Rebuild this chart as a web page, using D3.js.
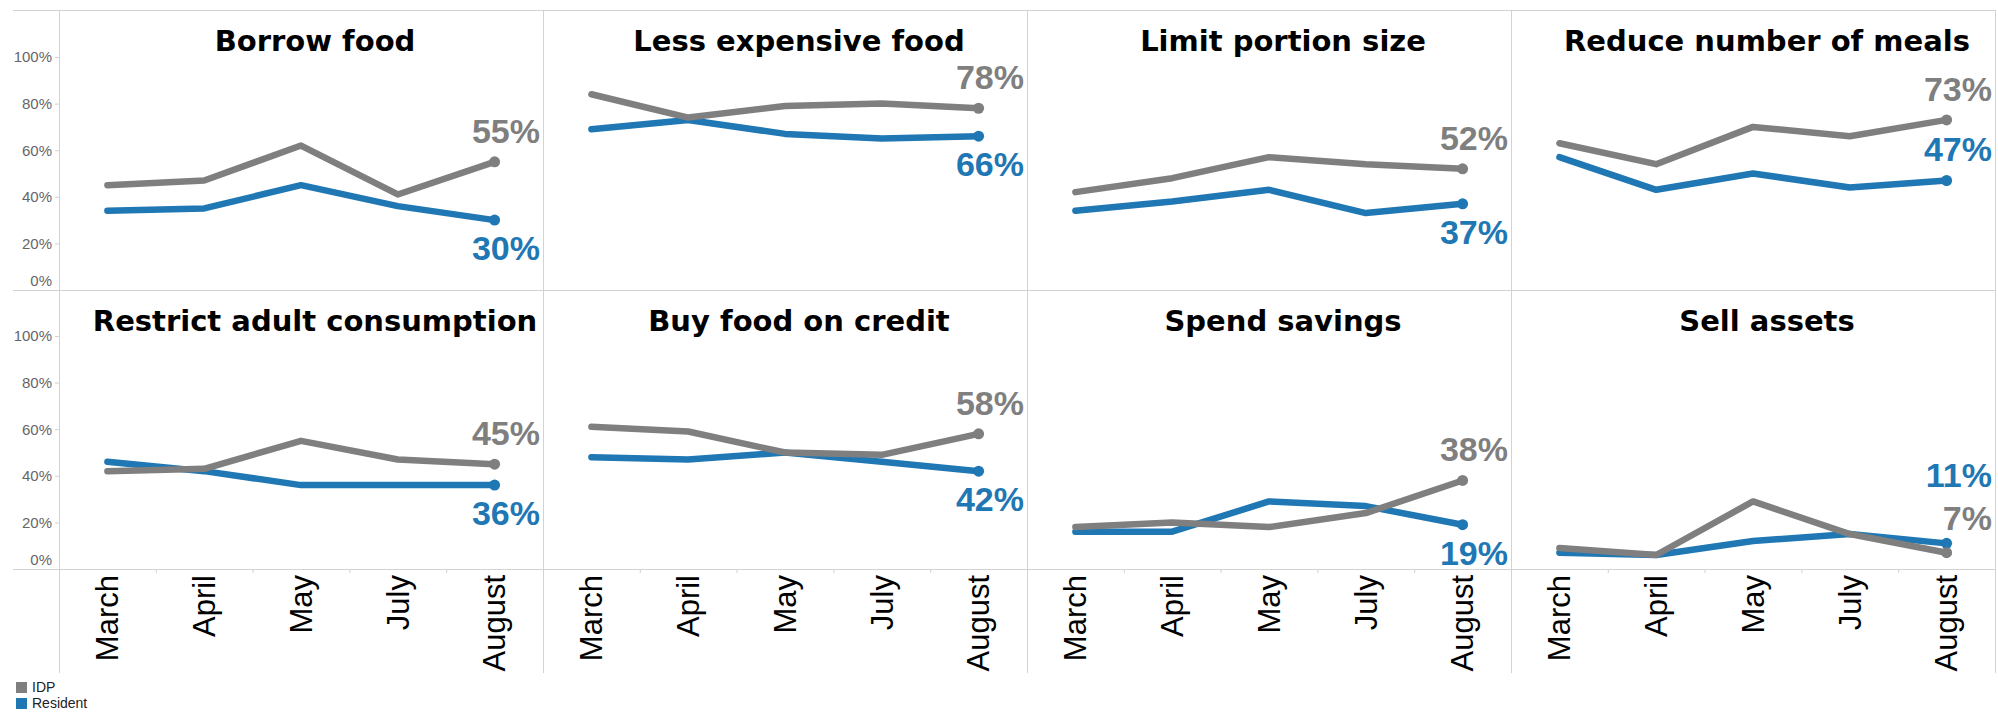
<!DOCTYPE html>
<html>
<head>
<meta charset="utf-8">
<script src="https://cdn.jsdelivr.net/npm/d3@7"></script>
<style>
  body { margin: 0; background: #fff; }
  svg { display: block; }
</style>
</head>
<body>
<script>
// data
const months = ["March", "April", "May", "July", "August"];
const titles = ["Borrow food", "Less expensive food", "Limit portion size", "Reduce number of meals",
  "Restrict adult consumption", "Buy food on credit", "Spend savings", "Sell assets"];
const seriesNames = ["IDP", "Resident"];
const idp = [
  [45, 47, 62, 41, 55],
  [84, 74, 79, 80, 78],
  [42, 48, 57, 54, 52],
  [63, 54, 70, 66, 73],
  [42, 43, 55, 47, 45],
  [61, 59, 50, 49, 58],
  [18, 20, 18, 24, 38],
  [9, 6, 29, 15, 7]
];
const resident = [
  [34, 35, 45, 36, 30],
  [69, 73, 67, 65, 66],
  [34, 38, 43, 33, 37],
  [57, 43, 50, 44, 47],
  [46, 42, 36, 36, 36],
  [48, 47, 50, 46, 42],
  [16, 16, 29, 27, 19],
  [7, 6, 12, 15, 11]
];
const yTicks = [0, 20, 40, 60, 80, 100];

const width = 1998, height = 712;
const left = 59, panelW = 484, topY = 10, rowH = 279.5, plotH = 233, bottomEdge = 673;
const gridColor = "#d3d3d3";
const colors = { IDP: "#7f7f7f", Resident: "#1f77b4" };
const font = "Arial, 'Liberation Sans', sans-serif";

const svg = d3.select("body").append("svg")
    .attr("width", width)
    .attr("height", height)
    .style("font-family", font);

// grid / panel borders
const grid = svg.append("g").attr("stroke", gridColor).attr("stroke-width", 1);
[0, 1, 2].forEach(r => {
  const y = Math.round(topY + r * rowH) + 0.5;
  grid.append("line").attr("x1", 13).attr("x2", left + 4 * panelW).attr("y1", y).attr("y2", y);
});
[0, 1, 2, 3, 4].forEach(c => {
  const x = left + c * panelW + 0.5;
  grid.append("line").attr("x1", x).attr("x2", x).attr("y1", topY).attr("y2", bottomEdge);
});

const yScales = [0, 1].map(r => {
  const b = Math.round(topY + (r + 1) * rowH);
  return d3.scaleLinear().domain([0, 100]).range([b, b - plotH]);
});

// y axes
yScales.forEach(y => {
  const g = svg.append("g")
      .attr("transform", `translate(${left},0)`)
      .call(d3.axisLeft(y).tickValues(yTicks).tickFormat(d => d + "%").tickSize(4).tickPadding(3));
  g.select(".domain").remove();
  g.selectAll(".tick line").attr("stroke", gridColor);
  g.selectAll(".tick text")
      .attr("fill", "#666")
      .style("font-size", "15px")
      .style("font-family", font);
  g.selectAll(".tick text").filter(d => d === 0).attr("dy", "-0.27em");
});

const line = d3.line().x(d => d.x).y(d => d.y);

titles.forEach((title, p) => {
  const row = Math.floor(p / 4), col = p % 4;
  const px = left + col * panelW;
  const rowTop = topY + row * rowH;
  const y = yScales[row];
  const x = d3.scaleBand().domain(months).range([px, px + panelW]);
  const cx = m => x(m) + x.bandwidth() / 2;

  const g = svg.append("g");

  g.append("text")
      .attr("x", px + panelW / 2 + 14)
      .attr("y", rowTop + 41)
      .attr("text-anchor", "middle")
      .style("font-family", "'DejaVu Sans', Verdana, sans-serif")
      .style("font-weight", "bold")
      .style("font-size", "29px")
      .attr("fill", "#000")
      .text(title);

  // month axis only under the bottom row
  if (row === 1) {
    const ax = g.append("g")
        .attr("transform", `translate(0,${y(0)})`)
        .call(d3.axisBottom(x).tickSize(0));
    ax.select(".domain").remove();
    ax.selectAll(".tick text")
        .attr("transform", "rotate(-90)")
        .attr("text-anchor", "end")
        .attr("x", -6)
        .attr("y", 0)
        .attr("dy", "0.35em")
        .attr("fill", "#000")
        .style("font-size", "31px")
        .style("font-family", font);
    g.selectAll(".bandtick")
        .data(months.slice(1))
        .join("line")
        .attr("x1", d => x(d) + 0.5).attr("x2", d => x(d) + 0.5)
        .attr("y1", y(0)).attr("y2", y(0) + 4)
        .attr("stroke", gridColor);
  }

  const series = [
    { name: "Resident", values: resident[p] },
    { name: "IDP", values: idp[p] }
  ].map(s => ({
    name: s.name,
    last: s.values[s.values.length - 1],
    pts: months.map((m, i) => ({ x: cx(m), y: y(s.values[i]) }))
  }));

  series.forEach(s => {
    g.append("path")
        .datum(s.pts)
        .attr("d", line)
        .attr("fill", "none")
        .attr("stroke", colors[s.name])
        .attr("stroke-width", 6.5)
        .attr("stroke-linecap", "round")
        .attr("stroke-linejoin", "round");
    const e = s.pts[s.pts.length - 1];
    g.append("circle")
        .attr("cx", e.x).attr("cy", e.y).attr("r", 5.5)
        .attr("fill", colors[s.name]);
  });

  // end labels: upper series above its point, the other one above if free, else below
  const sorted = series.slice().sort((a, b) => b.last - a.last);
  const labelRight = px + panelW - 3;
  const texts = sorted.map(s => g.append("text")
      .attr("x", labelRight)
      .attr("text-anchor", "end")
      .attr("fill", colors[s.name])
      .style("font-weight", "bold")
      .style("font-size", "34px")
      .style("font-family", font)
      .text(s.last + "%"));

  const upper = sorted[0], lower = sorted[1];
  const uEnd = upper.pts[4], lEnd = lower.pts[4];
  let uBase = uEnd.y - 19;
  const lw = texts[1].node().getComputedTextLength();

  // y-range of the upper line over the lower label's x span
  const a = upper.pts[3], b = upper.pts[4];
  const x0 = Math.max(labelRight - lw, a.x), x1 = Math.min(labelRight, b.x);
  const yAt = xx => a.y + (b.y - a.y) * (xx - a.x) / (b.x - a.x);
  const lineTop = Math.min(yAt(x0), yAt(x1)) - 3.5, lineBot = Math.max(yAt(x0), yAt(x1)) + 3.5;

  const pad = 4, capH = 25;
  let lBase = lEnd.y - 19;
  const boxTop = lBase - capH - pad, boxBot = lBase + pad;
  const hitsLine = x1 > x0 && !(boxBot < lineTop || boxTop > lineBot);
  const hitsLabel = boxTop < uBase + pad;
  if (hitsLine || hitsLabel) {
    const below = lEnd.y + 40;
    if (below <= y(0)) {
      lBase = below;
    } else {
      lBase = lEnd.y - 23;
      uBase = Math.min(uBase, lBase - 43);
    }
  }
  texts[0].attr("y", uBase);
  texts[1].attr("y", lBase);
});

// legend
const legend = svg.append("g");
seriesNames.forEach((name, i) => {
  legend.append("rect")
      .attr("x", 16).attr("y", 682 + i * 16)
      .attr("width", 11).attr("height", 11)
      .attr("fill", colors[name]);
  legend.append("text")
      .attr("x", 32).attr("y", 692 + i * 16)
      .attr("fill", "#222")
      .style("font-size", "14px")
      .text(name);
});
</script>
</body>
</html>
